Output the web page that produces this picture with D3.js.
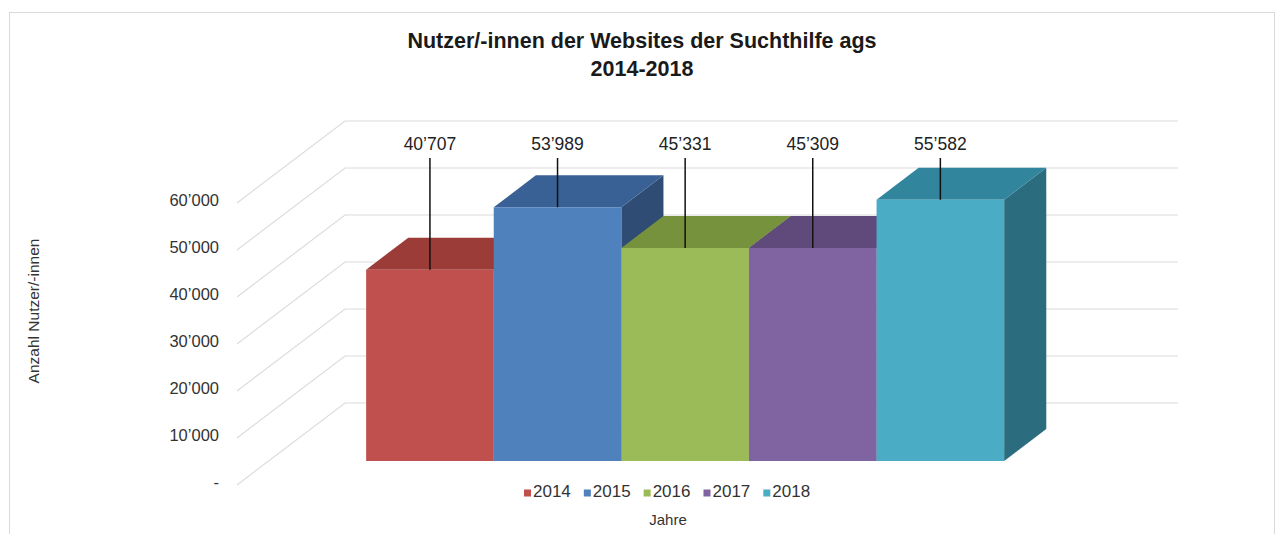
<!DOCTYPE html>
<html>
<head>
<meta charset="utf-8">
<script src="https://cdn.jsdelivr.net/npm/d3@7"></script>
<style>
  body { margin: 0; background: #fff; }
  svg { display: block; font-family: "Liberation Sans", Arial, sans-serif; }
</style>
</head>
<body>
<div id="app"></div>
<script>
// data
var years = ['2014', '2015', '2016', '2017', '2018'];
var users = [40707, 53989, 45331, 45309, 55582];
var tickValues = [0, 10000, 20000, 30000, 40000, 50000, 60000];
var tickLabels = ['-', '10’000', '20’000', '30’000', '40’000', '50’000', '60’000'];
var valueLabels = ['40’707', '53’989', '45’331', '45’309', '55’582'];

var colors = ['#C0504D', '#4F81BD', '#9BBB59', '#8064A2', '#4BACC6'];
var topColors = ['#9C3C39', '#3A6196', '#76923C', '#604A7B', '#31859C'];
var sideColors = ['#7F2F2C', '#2E4C74', '#5C7330', '#4A3960', '#2B6C7E'];

var W = 1278, H = 534;

var svg = d3.select('#app')
    .append('svg')
    .attr('width', W)
    .attr('height', H);

// frame
svg.append('rect')
    .attr('x', 9.5).attr('y', 12.5)
    .attr('width', 1265).attr('height', 540)
    .attr('fill', '#fff')
    .attr('stroke', '#d9d9d9');

// oblique 3d: front plane origin, depth vector
var x0 = 237, y0 = 485;
var depth = [108, -82];
var wallW = 833;

var yScale = d3.scaleLinear().domain([0, 60000]).range([0, 282]);
var xBand = d3.scaleBand().domain(years).range([0, wallW])
    .paddingInner(0).paddingOuter(0.764);

function P(x, v, z) {
    return [x0 + x + z * depth[0], y0 - yScale(v) + z * depth[1]];
}

// side wall diagonals + back wall gridlines
var grid = svg.append('g');
tickValues.forEach(function (t) {
    var a = P(0, t, 0), b = P(0, t, 1), c = P(wallW, t, 1);
    grid.append('path')
        .attr('d', d3.line()([a, b, c]))
        .attr('fill', 'none')
        .attr('stroke', '#dcdcdc')
        .attr('stroke-width', 1.2);
});

// tick labels
svg.append('g').selectAll('text')
    .data(tickValues)
    .enter()
    .append('text')
    .attr('x', 219)
    .attr('y', function (d) { return P(0, d, 0)[1] - 1; })
    .attr('text-anchor', 'end')
    .attr('dominant-baseline', 'middle')
    .attr('font-size', 16.5)
    .attr('fill', '#333')
    .text(function (d, i) { return tickLabels[i]; });

// bars
var zf = 0.293, zb = 0.683;
var bars = svg.append('g');
years.forEach(function (yr, i) {
    var xl = xBand(yr), xr = xl + xBand.bandwidth(), v = users[i];
    var side = [P(xr, 0, zf), P(xr, 0, zb), P(xr, v, zb), P(xr, v, zf)];
    var top = [P(xl, v, zf), P(xr, v, zf), P(xr, v, zb), P(xl, v, zb)];
    var front = [P(xl, 0, zf), P(xr, 0, zf), P(xr, v, zf), P(xl, v, zf)];
    bars.append('path').attr('d', d3.line()(side) + 'Z').attr('fill', sideColors[i]);
    bars.append('path').attr('d', d3.line()(top) + 'Z').attr('fill', topColors[i]);
    bars.append('path').attr('d', d3.line()(front) + 'Z').attr('fill', colors[i]);
});

// data labels with leader lines
var labelY = 145;
years.forEach(function (yr, i) {
    var cx = xBand(yr) + xBand.bandwidth() / 2;
    var p = P(cx, users[i], zf);
    svg.append('line')
        .attr('x1', p[0]).attr('x2', p[0])
        .attr('y1', labelY + 13).attr('y2', p[1])
        .attr('stroke', '#111')
        .attr('stroke-width', 1.5);
    svg.append('text')
        .attr('x', p[0])
        .attr('y', labelY)
        .attr('text-anchor', 'middle')
        .attr('dominant-baseline', 'middle')
        .attr('font-size', 17.5)
        .attr('fill', '#222')
        .text(valueLabels[i]);
});

// title
svg.append('text')
    .attr('x', 642).attr('y', 42)
    .attr('text-anchor', 'middle')
    .attr('dominant-baseline', 'middle')
    .attr('font-size', 21.5).attr('font-weight', 'bold')
    .attr('fill', '#1a1a1a')
    .text('Nutzer/-innen der Websites der Suchthilfe ags');
svg.append('text')
    .attr('x', 642).attr('y', 70)
    .attr('text-anchor', 'middle')
    .attr('dominant-baseline', 'middle')
    .attr('font-size', 21.5).attr('font-weight', 'bold')
    .attr('fill', '#1a1a1a')
    .text('2014-2018');

// y axis title
svg.append('text')
    .attr('transform', 'translate(35,311) rotate(-90)')
    .attr('text-anchor', 'middle')
    .attr('dominant-baseline', 'middle')
    .attr('font-size', 15.5)
    .attr('fill', '#333')
    .text('Anzahl Nutzer/-innen');

// legend
var legend = svg.append('g').attr('transform', 'translate(524,493)');
var lx = 0;
years.forEach(function (yr, i) {
    var g = legend.append('g').attr('transform', 'translate(' + lx + ',0)');
    g.append('rect')
        .attr('x', 0).attr('y', -3.5)
        .attr('width', 7).attr('height', 7)
        .attr('fill', colors[i]);
    var t = g.append('text')
        .attr('x', 9)
        .attr('dominant-baseline', 'middle')
        .attr('font-size', 17)
        .attr('fill', '#333')
        .text(yr);
    lx += 9 + t.node().getComputedTextLength() + 13;
});

svg.append('text')
    .attr('x', 668).attr('y', 521)
    .attr('text-anchor', 'middle')
    .attr('dominant-baseline', 'middle')
    .attr('font-size', 15)
    .attr('fill', '#333')
    .text('Jahre');
</script>
</body>
</html>
